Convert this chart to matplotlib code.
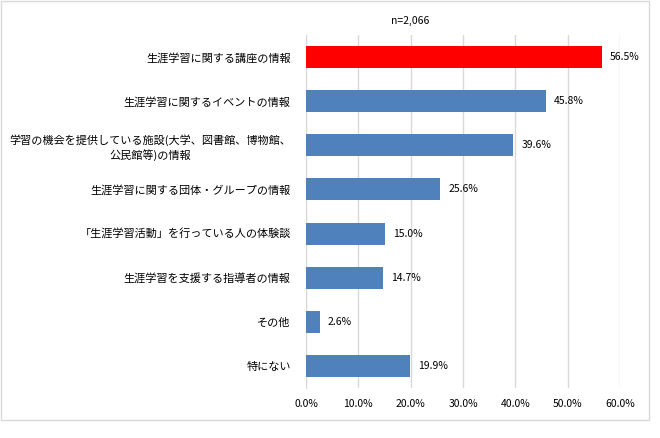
import matplotlib.pyplot as plt
from matplotlib.patches import Rectangle

plt.rcParams['font.family'] = ['Noto Sans CJK JP', 'DejaVu Sans']

# データ
categories = [
    "生涯学習に関する講座の情報",
    "生涯学習に関するイベントの情報",
    "学習の機会を提供している施設(大学、図書館、博物館、\n公民館等)の情報",
    "生涯学習に関する団体・グループの情報",
    "「生涯学習活動」を行っている人の体験談",
    "生涯学習を支援する指導者の情報",
    "その他",
    "特にない",
]
values = [56.5, 45.8, 39.6, 25.6, 15.0, 14.7, 2.6, 19.9]
colors = ["#ff0000"] + ["#4f81bd"] * 7
xticks = [0, 10, 20, 30, 40, 50, 60]

fig = plt.figure(figsize=(6.6, 4.38), dpi=100)
ax = fig.add_axes([306 / 660, 1 - 388 / 438, 314 / 660, 353 / 438])

ypos = list(range(len(categories)))
ax.barh(ypos, values, height=0.5, color=colors, zorder=3)

for y, v in zip(ypos, values):
    ax.text(v + 1.6, y, f"{v:.1f}%", va='center', ha='left', fontsize=7.5)

ax.set_xlim(0, 60)
ax.set_ylim(len(categories) - 0.5, -0.5)
ax.set_xticks(xticks)
ax.set_xticklabels([f"{t:.1f}%" for t in xticks], fontsize=7.5)
ax.set_yticks(ypos)
ax.set_yticklabels(categories, fontsize=8, linespacing=1.3)
for lbl in ax.get_yticklabels():
    lbl.set_multialignment('center')
ax.tick_params(axis='y', length=0, pad=11)
ax.tick_params(axis='x', length=0, pad=8)
ax.grid(axis='x', color='#d9d9d9', linewidth=1, zorder=0)
for s in ['top', 'right', 'bottom']:
    ax.spines[s].set_visible(False)
ax.spines['left'].set_color('#d9d9d9')

ax.text(20, -0.5 - 0.2, "n=2,066", ha='center', va='bottom', fontsize=7.5)

# 外枠
fig.patches.append(Rectangle((1 / 660, 1 - 420 / 438), 648 / 660, 419 / 438,
                             transform=fig.transFigure, fill=False,
                             edgecolor='#d9d9d9', linewidth=1))

fig.savefig("out.png", dpi=100)
